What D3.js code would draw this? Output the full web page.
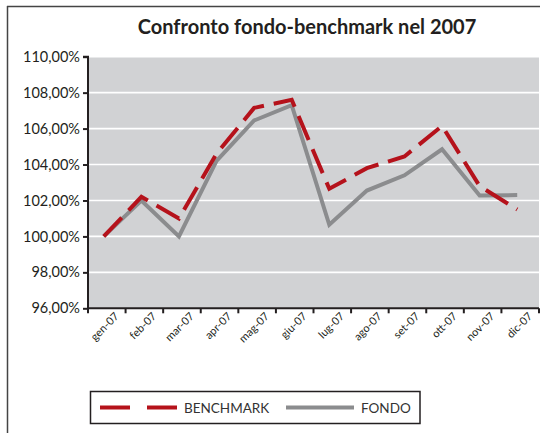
<!DOCTYPE html>
<html><head><meta charset="utf-8">
<script src="https://cdn.jsdelivr.net/npm/d3@7"></script>
<style>
html,body{margin:0;padding:0;background:#fff;}
svg{display:block;font-family:Lato,"Open Sans",sans-serif;}
</style></head>
<body><svg id="c" width="545" height="433"></svg>
<script>
const months = ["gen-07","feb-07","mar-07","apr-07","mag-07","giu-07","lug-07","ago-07","set-07","ott-07","nov-07","dic-07"];
const benchmark = [100.0,102.2,101.0,104.6,107.15,107.6,102.65,103.8,104.45,106.15,102.8,101.5];
const fondo = [100.0,102.0,100.0,104.2,106.45,107.3,100.65,102.55,103.4,104.85,102.28,102.3];
const yTicks = [96,98,100,102,104,106,108,110];
const seriesNames = ["BENCHMARK","FONDO"];

const svg = d3.select("#c");
const L = 88, R = 539, T = 56.7, B = 308.3;

// frame
svg.append("line").attr("x1",7).attr("x2",540).attr("y1",6.5).attr("y2",6.5).attr("stroke","#444").attr("stroke-width",1.5);
svg.append("line").attr("x1",7.5).attr("x2",7.5).attr("y1",6).attr("y2",433).attr("stroke","#444").attr("stroke-width",1.5);

svg.append("text").attr("x",307).attr("y",34).attr("text-anchor","middle")
  .attr("font-size",20).attr("font-weight","bold").attr("fill","#231f20")
  .text("Confronto fondo-benchmark nel 2007");

const x = d3.scaleBand().domain(months).range([L,R]);
const y = d3.scaleLinear().domain([96,110]).range([B,T]);
const px = d => x(d) + x.bandwidth()/2 - 3;

svg.append("rect").attr("x",L).attr("y",T).attr("width",R-L).attr("height",B-T).attr("fill","#d1d2d4");
svg.append("g").selectAll("line").data(yTicks.filter(v=>v>96)).join("line")
  .attr("x1",L).attr("x2",R).attr("y1",d=>y(d)).attr("y2",d=>y(d))
  .attr("stroke","#fff").attr("stroke-width",1.6);

const line = d3.line().x((d,i)=>px(months[i])).y(d=>y(d));
svg.append("path").datum(fondo).attr("d",line).attr("fill","none")
  .attr("stroke","#8b8c8e").attr("stroke-width",4).attr("stroke-linejoin","miter");
svg.append("path").datum(benchmark).attr("d",line).attr("fill","none")
  .attr("stroke","#b5121b").attr("stroke-width",4).attr("stroke-dasharray","26,10");

// axes
const fmt = v => d3.format(".2f")(v).replace(".",",") + "%";
const ya = svg.append("g").attr("transform",`translate(${L},0)`)
  .call(d3.axisLeft(y).tickValues(yTicks).tickFormat(fmt).tickSize(5).tickPadding(3));
ya.select(".domain").attr("stroke","#231f20").attr("stroke-width",2).attr("d",`M-5,${T}H0V${B}`);
ya.selectAll(".tick line").attr("stroke","#231f20").attr("stroke-width",2);
ya.selectAll("text").attr("font-size",14.5).attr("fill","#231f20").attr("font-family","Lato");

const xa = svg.append("g").attr("transform",`translate(0,${B})`)
  .call(d3.axisBottom(x).tickSize(0).tickFormat(d=>d));
xa.select(".domain").attr("stroke","#231f20").attr("stroke-width",2).attr("d",`M${L},0H${R}`);
xa.selectAll(".tick text").attr("font-size",11).attr("fill","#231f20").attr("font-family","Lato")
  .attr("text-anchor","end").attr("transform","translate(10,6) rotate(-45)").attr("dy","0.35em").attr("y",0);
// tick marks at band boundaries
svg.append("g").selectAll("line").data(months.concat(["end"])).join("line")
  .attr("x1",(d,i)=>i<months.length?x(d):R).attr("x2",(d,i)=>i<months.length?x(d):R)
  .attr("y1",B).attr("y2",B+5).attr("stroke","#231f20").attr("stroke-width",2);

// legend
const lg = svg.append("g");
lg.append("rect").attr("x",90.5).attr("y",391.5).attr("width",329.5).attr("height",32).attr("fill","#fff")
  .attr("stroke","#231f20").attr("stroke-width",1.5);
lg.append("line").attr("x1",100).attr("x2",178).attr("y1",407.5).attr("y2",407.5)
  .attr("stroke","#b5121b").attr("stroke-width",4).attr("stroke-dasharray","30,17");
lg.append("line").attr("x1",286).attr("x2",354).attr("y1",407.5).attr("y2",407.5)
  .attr("stroke","#8b8c8e").attr("stroke-width",4);
lg.selectAll("text").data(seriesNames).join("text")
  .attr("x",(d,i)=>i===0?184:361).attr("y",412.5).attr("font-size",13.5).attr("fill","#333")
  .text(d=>d);
</script></body></html>
